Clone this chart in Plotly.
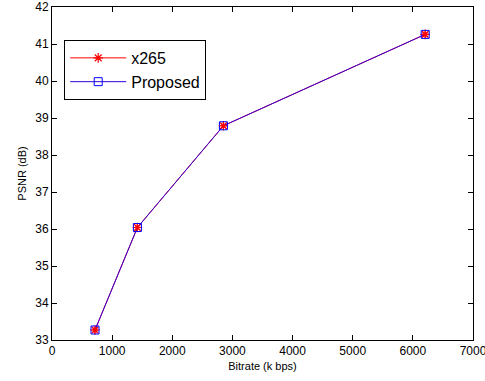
import plotly.graph_objects as go

bitrate = [715, 1420, 2850, 6205]
psnr_x265 = [33.27, 36.04, 38.79, 41.26]
psnr_proposed = [33.27, 36.04, 38.79, 41.26]

fig = go.Figure()
fig.add_trace(go.Scatter(x=bitrate, y=psnr_x265, name="x265", mode="lines+markers",
                         line=dict(color="#ff0000", width=1),
                         marker=dict(symbol="asterisk-open", size=8, color="#ff0000",
                                     line=dict(color="#ff0000", width=1.2))))
fig.add_trace(go.Scatter(x=bitrate, y=psnr_proposed, name="Proposed", mode="lines+markers",
                         line=dict(color="#3300dd", width=1),
                         marker=dict(symbol="square-open", size=8, color="#0000ff",
                                     line=dict(color="#0000ff", width=1))))
fig.add_trace(go.Scatter(x=bitrate, y=psnr_x265, mode="markers", showlegend=False,
                         marker=dict(symbol="asterisk-open", size=6, color="#ff0000",
                                     line=dict(color="#ff0000", width=1.2))))

axis_common = dict(showgrid=False, zeroline=False, showline=True, linecolor="black",
                   linewidth=1, mirror="ticks", ticks="inside", ticklen=5,
                   tickcolor="black", tickfont=dict(size=12, color="black"),
                   automargin=False, ticklabeloverflow="allow")

fig.update_layout(
    width=485, height=381,
    margin=dict(l=52, r=12, t=7, b=41),
    plot_bgcolor="white", paper_bgcolor="white",
    font=dict(family="Liberation Sans, Arial, sans-serif", color="black"),
    xaxis=dict(range=[0, 7000], dtick=1000,
               title=dict(text="Bitrate (k bps)", font=dict(size=11), standoff=4),
               **axis_common),
    yaxis=dict(range=[33, 42], dtick=1,
               title=dict(text="PSNR (dB)", font=dict(size=11), standoff=6),
               **axis_common),
    legend=dict(x=0.029, y=0.901, xanchor="left", yanchor="top",
                bordercolor="black", borderwidth=1, bgcolor="white",
                font=dict(size=16), tracegroupgap=0, itemwidth=56),
    showlegend=True,
)

fig.write_html("out.html", config={"displayModeBar": False},
               post_script="document.body.style.margin='0';")
